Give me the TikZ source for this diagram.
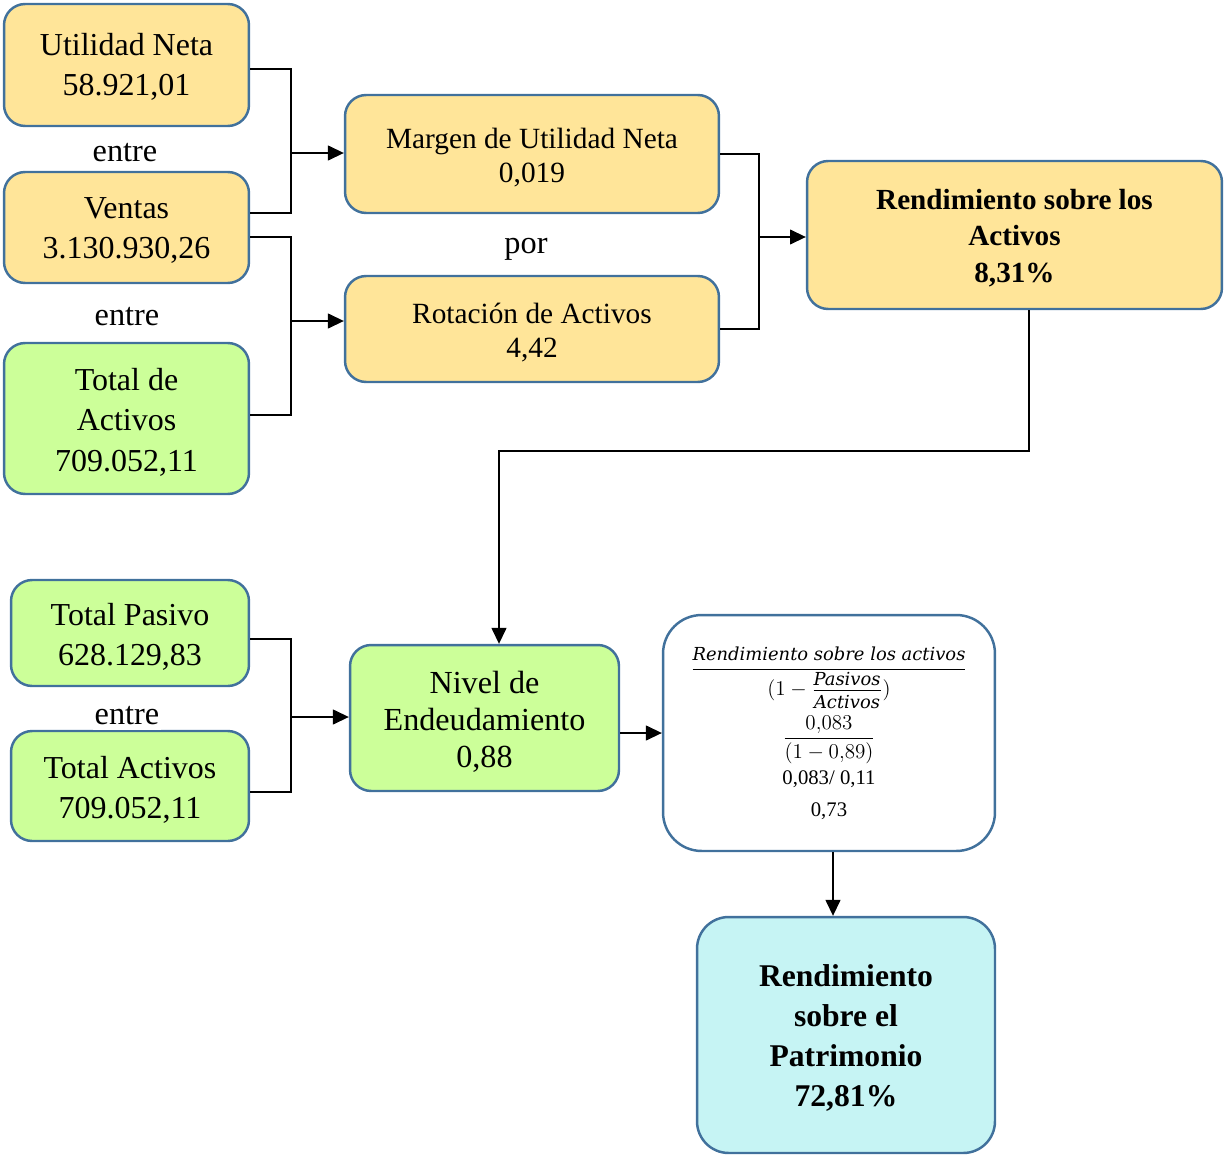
\documentclass[tikz,border=0pt]{standalone}
\usepackage{amsmath}
\usepackage{fontspec}
\setmainfont{Liberation Serif}
\newfontfamily\formulafont{DejaVu Serif}
\usepackage{tikz}
\usetikzlibrary{arrows.meta}

\definecolor{boxline}{HTML}{41719C}
\definecolor{boxyellow}{HTML}{FFE599}
\definecolor{boxgreen}{HTML}{CCFF99}
\definecolor{boxcyan}{HTML}{C6F4F4}

\newcommand{\fword}[1]{\text{\formulafont\itshape\fontsize{10.2}{12}\selectfont #1}}
\newcommand{\topgap}[1][17pt]{\rule{0pt}{#1}}

\begin{document}
\begin{tikzpicture}[x=0.02cm, y=-0.02cm,
    box/.style={rectangle, rounded corners=12pt, draw=boxline, line width=1.4pt, align=center, inner sep=2pt},
    yellowbox/.style={box, fill=boxyellow},
    greenbox/.style={box, fill=boxgreen},
    bigtext/.style={font=\fontsize{18.2}{22.8}\selectfont},
    midtext/.style={font=\fontsize{16.7}{19.1}\selectfont},
    word/.style={font=\fontsize{18.4}{20}\selectfont, inner sep=1pt},
    link/.style={draw=black, line width=0.6pt},
    arrow/.style={link, -{Triangle[length=9pt, width=8.5pt]}}]
    \useasboundingbox (0,0) rectangle (1224,1156);
    \node[yellowbox, bigtext, minimum width=4.9cm, minimum height=2.44cm] (UN) at (126.5, 65) {\topgap[15pt]Utilidad Neta\\58.921,01};
    \node[yellowbox, bigtext, minimum width=4.9cm, minimum height=2.22cm] (V) at (126.5, 227.5) {\topgap[15.5pt]Ventas\\3.130.930,26};
    \node[greenbox, bigtext, minimum width=4.9cm, minimum height=3.02cm] (TA) at (126.5, 418.5) {\topgap Total de\\Activos\\709.052,11};
    \node[word] (entreA) at (125, 153) {entre};
    \node[word] (entreB) at (127, 317) {entre};
    \node[yellowbox, midtext, minimum width=7.48cm, minimum height=2.36cm] (M) at (532, 154) {\topgap[15.5pt]Margen de Utilidad Neta\\0,019};
    \node[yellowbox, midtext, minimum width=7.48cm, minimum height=2.12cm] (R) at (532, 329) {\topgap[15.5pt]Rotación de Activos\\4,42};
    \node[word] (por) at (526, 249) {por};
    \node[yellowbox, font=\fontsize{16.6}{20.8}\selectfont\bfseries, minimum width=8.3cm, minimum height=2.96cm] (ROA) at (1014.5, 235) {\topgap[14.7pt]Rendimiento sobre los\\Activos\\8,31\%};
    \node[greenbox, bigtext, minimum width=4.76cm, minimum height=2.12cm] (TP) at (130, 633) {\topgap[17.5pt]Total Pasivo\\628.129,83};
    \node[greenbox, bigtext, minimum width=4.76cm, minimum height=2.2cm] (TA2) at (130, 786) {\topgap[16.5pt]Total Activos\\709.052,11};
    \node[word, fill=white, inner ysep=0pt, text depth=0.35em, anchor=base] (entreC) at (127, 724) {entre};
    \node[greenbox, font=\fontsize{18.3}{21}\selectfont, minimum width=5.38cm, minimum height=2.92cm] (N) at (484.5, 718) {\topgap[17.2pt]Nivel de\\Endeudamiento\\0,88};
    \node[box, rounded corners=22pt, fill=white, font=\fontsize{11.8}{13}\selectfont, minimum width=6.64cm, minimum height=4.72cm] (F) at (829, 733)
        {$\dfrac{\fword{Rendimiento sobre los activos}}{(1-\frac{\fword{Pasivos}\rule[-2pt]{0pt}{0pt}}{\rule{0pt}{10pt}\fword{Activos}})}$\\[3pt]
         $\dfrac{0{,}083}{(1-0{,}89)}$\\[3pt]
         0,083/ 0,11\\[5pt]
         0,73};
    \node[box, rounded corners=18pt, fill=boxcyan, font=\fontsize{18}{22.6}\selectfont\bfseries, minimum width=5.96cm, minimum height=4.72cm] (ROE) at (846, 1035) {\topgap[15.8pt]Rendimiento\\sobre el\\Patrimonio\\72,81\%};

    \coordinate (jA) at (291, 153);
    \coordinate (jB) at (291, 321);
    \coordinate (jC) at (759, 237);
    \coordinate (jD) at (291, 717);
    \coordinate (bend) at (1029, 451);

    \draw[link] ([yshift=-0.08cm]UN.east) -| (jA) |- ([yshift=0.29cm]V.east);
    \draw[arrow] (jA) -- (jA -| M.west);
    \draw[link] ([yshift=-0.19cm]V.east) -| (jB) |- ([yshift=0.07cm]TA.east);
    \draw[arrow] (jB) -- (jB -| R.west);
    \draw[link] (M.east) -| (jC) |- (R.east);
    \draw[arrow] (jC) -- (jC -| ROA.west);
    \draw[arrow] (ROA.south -| bend) -- (bend) -| ([xshift=0.29cm]N.north);
    \draw[link] ([yshift=-0.12cm]TP.east) -| (jD) |- ([yshift=-0.12cm]TA2.east);
    \draw[arrow] (jD) -- (jD -| N.west);
    \draw[arrow] (N.east |- F.west) -- (F.west);
    \draw[arrow] ([xshift=0.08cm]F.south) -- ([xshift=0.08cm]F.south |- ROE.north);
\end{tikzpicture}
\end{document}
